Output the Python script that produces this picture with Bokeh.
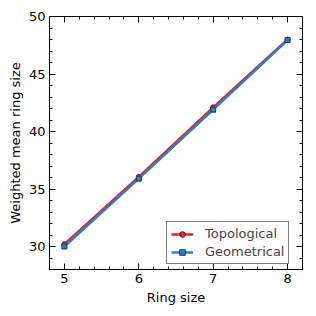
from bokeh.plotting import figure
from bokeh.models import LinearAxis, Range1d, Legend, LegendItem, FixedTicker
from bokeh.embed import file_html
from bokeh.resources import INLINE

ring_size = [5, 6, 7, 8]
topological = [30.2, 36.05, 42.1, 48.0]
geometrical = [30.0, 35.9, 41.9, 47.95]

red = "#e0262c"
blue = "#2f7fc0"

p = figure(frame_width=253, frame_height=253, output_backend="svg", toolbar_location=None,
           x_range=Range1d(4.8, 8.2), y_range=Range1d(28, 50),
           min_border_left=49, min_border_right=2, min_border_top=16, min_border_bottom=30)
p.grid.visible = False
p.outline_line_color = "black"
p.outline_line_width = 1

l1 = p.line(ring_size, topological, color=red, line_width=2.5)
m1 = p.scatter(ring_size, topological, marker="circle", size=5, fill_color=red, line_color="#7a1010")
l2 = p.line(ring_size, geometrical, color=blue, line_width=2.5)
m2 = p.scatter(ring_size, geometrical, marker="square", size=5, fill_color=blue, line_color="#1a3a5a")

xt = FixedTicker(ticks=[5, 6, 7, 8], minor_ticks=[4.8 + 0.2 * i for i in range(18)])
yt = FixedTicker(ticks=[30, 35, 40, 45, 50], minor_ticks=list(range(28, 51)))
p.xaxis.ticker = xt
p.yaxis.ticker = yt

for ax in [p.xaxis[0], p.yaxis[0]]:
    ax.major_tick_in = 6
    ax.major_tick_out = 0
    ax.minor_tick_in = 3
    ax.minor_tick_out = 0
    ax.axis_line_color = "black"
    ax.major_label_text_font = "DejaVu Sans"
    ax.major_label_text_font_size = "13px"
    ax.major_label_text_color = "black"
    ax.axis_label_text_font = "DejaVu Sans"
    ax.axis_label_text_font_size = "13px"
    ax.axis_label_text_font_style = "normal"
    ax.axis_label_text_color = "black"

p.xaxis.axis_label = "Ring size"
p.yaxis.axis_label = "Weighted mean ring size"
p.xaxis.axis_label_standoff = 4
p.yaxis.axis_label_standoff = 3
p.xaxis.major_label_standoff = 4
p.yaxis.major_label_standoff = 4

top = LinearAxis(ticker=xt, major_label_overrides={5: "", 6: "", 7: "", 8: ""},
                 major_tick_in=6, major_tick_out=0, minor_tick_in=3, minor_tick_out=0,
                 major_label_standoff=0)
right = LinearAxis(ticker=yt, major_label_overrides={30: "", 35: "", 40: "", 45: "", 50: ""},
                   major_tick_in=6, major_tick_out=0, minor_tick_in=3, minor_tick_out=0,
                   major_label_standoff=0)
p.add_layout(top, "above")
p.add_layout(right, "right")

legend = Legend(items=[LegendItem(label="Topological", renderers=[l1, m1]),
                       LegendItem(label="Geometrical", renderers=[l2, m2])],
                location=(117, 5))
legend.border_line_color = "black"
legend.border_line_width = 1
legend.label_text_font = "DejaVu Sans"
legend.label_text_font_size = "13px"
legend.glyph_width = 22
legend.glyph_height = 14
legend.label_height = 14
legend.spacing = 3
legend.padding = 4
legend.margin = 0
legend.label_standoff = 12
p.add_layout(legend)

open("out.html", "w").write(file_html(p, INLINE))
